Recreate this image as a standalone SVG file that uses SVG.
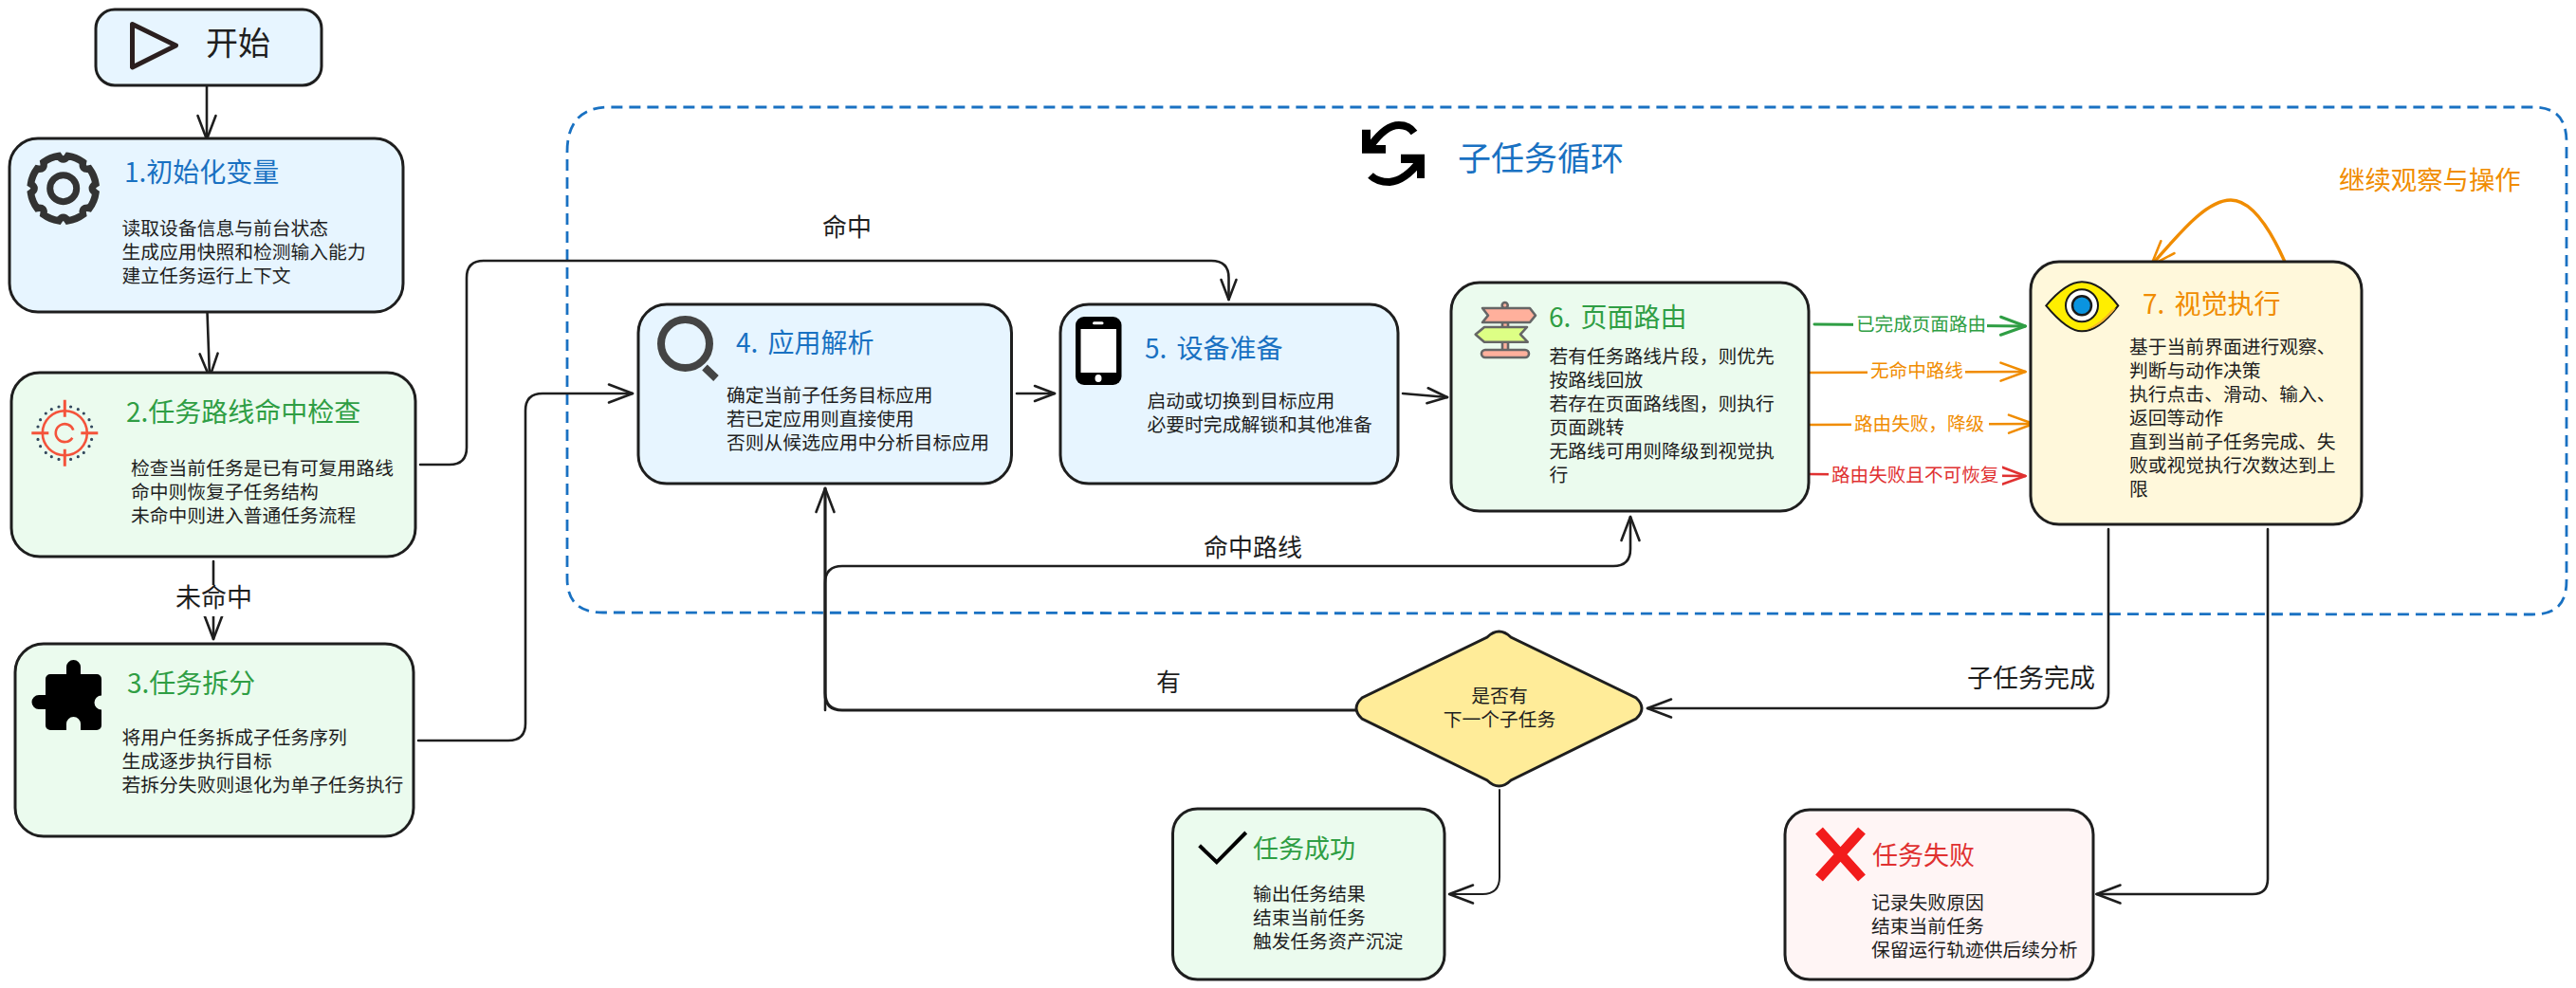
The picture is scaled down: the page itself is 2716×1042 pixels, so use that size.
<svg xmlns="http://www.w3.org/2000/svg" width="2716" height="1042" viewBox="0 0 2716 1042">
<style>
text{font-family:"Noto Sans CJK SC","Noto Sans",sans-serif;fill:#1e1e1e}
.node{stroke:#1e1e1e;stroke-width:3}
.blue{fill:#e7f5ff}.green{fill:#ebfbee}.yellow{fill:#fff8db}.red{fill:#fff5f5}
.b{font-size:19.8px}
.t{font-size:28px;word-spacing:4px}
.tb{fill:#1971c2}.tg{fill:#2f9e44}.to{fill:#f08c00}.tr{fill:#e03131}
.l{font-size:26px}
.e{font-size:19.6px}
.c{fill:none;stroke:#1e1e1e;stroke-width:2.6;stroke-linecap:round;stroke-linejoin:round;marker-end:url(#ak)}
.cs{marker-end:url(#aks)}
.cg{stroke:#2f9e44;stroke-width:3;marker-end:url(#ag)}
.co{stroke:#f08c00;marker-end:url(#ao)}
.cr{stroke:#e03131;marker-end:url(#ar)}
.bg{fill:#fff}
</style>
<defs>
<marker id="ak" markerUnits="userSpaceOnUse" markerWidth="32" markerHeight="26" viewBox="-29 -13 32 26" refX="0" refY="0" orient="auto"><path d="M-25,-9.5 L0,0 L-25,9.5" fill="none" stroke="#1e1e1e" stroke-width="2.6" stroke-linecap="round" stroke-linejoin="round"/></marker>
<marker id="aks" markerUnits="userSpaceOnUse" markerWidth="28" markerHeight="22" viewBox="-25 -11 28 22" refX="0" refY="0" orient="auto"><path d="M-21,-8 L0,0 L-21,8" fill="none" stroke="#1e1e1e" stroke-width="2.6" stroke-linecap="round" stroke-linejoin="round"/></marker>
<marker id="ag" markerUnits="userSpaceOnUse" markerWidth="32" markerHeight="26" viewBox="-29 -13 32 26" refX="0" refY="0" orient="auto"><path d="M-26,-9.5 L0,0 L-26,9.5" fill="none" stroke="#2f9e44" stroke-width="3" stroke-linecap="round" stroke-linejoin="round"/></marker>
<marker id="ao" markerUnits="userSpaceOnUse" markerWidth="32" markerHeight="26" viewBox="-29 -13 32 26" refX="0" refY="0" orient="auto"><path d="M-26,-9.5 L0,0 L-26,9.5" fill="none" stroke="#f08c00" stroke-width="2.6" stroke-linecap="round" stroke-linejoin="round"/></marker>
<marker id="ar" markerUnits="userSpaceOnUse" markerWidth="32" markerHeight="26" viewBox="-29 -13 32 26" refX="0" refY="0" orient="auto"><path d="M-26,-9.5 L0,0 L-26,9.5" fill="none" stroke="#e03131" stroke-width="2.6" stroke-linecap="round" stroke-linejoin="round"/></marker>
</defs>

<g id="subtask-loop">
<path d="M598,160 C598,130 612,113 642,113 L2670,113 C2695,113 2706,125 2706,150 L2706,612 C2706,637 2695,648 2670,648 L636,646 C610,646 598,634 598,610 Z" fill="none" stroke="#1971c2" stroke-width="2.8" stroke-dasharray="12 7"/>
<path d="M1445,154 C1455,140 1465,132 1475,132 C1482,132 1487,134 1491,140" fill="none" stroke="#000" stroke-width="8"/>
<path d="M1436,136.700 L1445,136.700 L1445,153 L1461,153 L1461,161.700 L1436,161.700 Z" fill="#000"/>
<path d="M1497,170 C1487,183 1477,191 1465,192 C1458,192 1450,190 1445,185" fill="none" stroke="#000" stroke-width="8"/>
<path d="M1477,162.700 L1502,162.700 L1502,188 L1494,188 L1494,172 L1477,172 Z" fill="#000"/>
<text x="1537" y="180" font-size="35" style="fill:#1971c2">子任务循环</text>
<text x="2466" y="200" font-size="27.400" style="fill:#f08c00">继续观察与操作</text>
</g>

<g id="connectors">
<path class="c" d="M218,87 V147"/>
<path class="c" d="M218.500,329 L221,398"/>
<path class="c" d="M225,592 V674"/>
<rect class="bg" x="184" y="617" width="84" height="33"/>
<text class="l" x="185" y="640" style="font-size:27px">未命中</text>
<path class="c cs" d="M443,490 H474 Q492,490 492,472 V293 Q492,275 510,275 H1277 Q1295.500,275 1295.500,293 V316"/>
<text class="l" x="867" y="249">命中</text>
<path class="c" d="M441,781 H536 Q554,781 554,763 V433 Q554,415 572,415 H667"/>
<path class="c cs" d="M1072,415 H1112"/>
<path class="c cs" d="M1479,415 L1526,419"/>
<path class="c" style="stroke-width:3.200" d="M1429,749 H888 Q870,749 870,731 V515"/>
<path class="c" d="M870,749 V615 Q870,597 888,597 H1701 Q1719,597 1719,579 V545"/>
<text class="l" x="1269" y="587">命中路线</text>
<text class="l" x="1219" y="729">有</text>
<path class="c cg" d="M1913,342 L2135.500,344"/>
<rect class="bg" x="1954" y="326" width="141" height="30"/>
<text class="e tg" x="1957" y="348.500">已完成页面路由</text>
<path class="c co" d="M1906,393 L2135.500,392"/>
<rect class="bg" x="1969" y="376" width="103" height="30"/>
<text class="e to" x="1972" y="397.500">无命中路线</text>
<path class="c co" d="M1906,448 L2144,447"/>
<rect class="bg" x="1952" y="431" width="145" height="30"/>
<text class="e to" x="1955" y="453.500">路由失败，降级</text>
<path class="c cr" d="M1905,500 L2135.500,502"/>
<rect class="bg" x="1928" y="485" width="183" height="30"/>
<text class="e tr" x="1931" y="507.500">路由失败且不可恢复</text>
<path class="c co" style="stroke-width:3.400" d="M2408.500,275 C2395,245 2375,211 2352,211 C2325,211 2295,250 2268,280"/>
<path class="c" d="M2223,558 V731 Q2223,747 2207,747 H1737"/>
<text class="l" x="2074" y="725" style="font-size:27px">子任务完成</text>
<path class="c" d="M2391,558 V927 Q2391,943 2375,943 H2210.500"/>
<path class="c" style="stroke-width:2" d="M1581,833 V925 Q1581,943 1563,943 H1528"/>
</g>

<g id="node-start">
<rect class="node blue" x="101" y="10" width="238" height="80" rx="20"/>
<path d="M139.500,25.500 L185.500,48 L139.500,71 Z" fill="none" stroke="#2b1f1f" stroke-width="5" stroke-linejoin="round"/>
<text x="217" y="58" font-size="34">开始</text>
</g>

<g id="node-1">
<rect class="node blue" x="10" y="146" width="415" height="183" rx="30"/>
<g transform="translate(66.700,198.700)" fill="none" stroke="#333">
<path stroke-width="7.500" d="M34.200,4.800 A34.500,34.500 0 0 1 27.600,20.800 Q19.100,19.100 20.800,27.600 A34.500,34.500 0 0 1 4.800,34.200 Q0,27 -4.800,34.200 A34.500,34.500 0 0 1 -20.800,27.600 Q-19.100,19.100 -27.600,20.800 A34.500,34.500 0 0 1 -34.200,4.800 Q-27,0 -34.200,-4.800 A34.500,34.500 0 0 1 -27.600,-20.800 Q-19.100,-19.100 -20.800,-27.600 A34.500,34.500 0 0 1 -4.800,-34.200 Q0,-27 4.800,-34.200 A34.500,34.500 0 0 1 20.800,-27.600 Q19.100,-19.100 27.600,-20.800 A34.500,34.500 0 0 1 34.200,-4.800 Q27,0 34.200,4.800 Z"/>
<circle r="14" stroke-width="7"/>
</g>
<text class="t tb" x="131" y="191.600">1.初始化变量</text>
<text class="b" x="128.500" y="247.500">读取设备信息与前台状态</text>
<text class="b" x="128.500" y="272.500">生成应用快照和检测输入能力</text>
<text class="b" x="128.500" y="297.500">建立任务运行上下文</text>
</g>

<g id="node-2">
<rect class="node green" x="12" y="393" width="426" height="194" rx="30"/>
<g transform="translate(68.300,456.700)">
<path d="M6.300,-27.700h0M14,-25h0M20,-20.700h0M25.700,-14h0M28.300,-6.700h0M28.300,6.700h0M25.700,14h0M20,20.700h0M14,25h0M6.300,27.700h0M-6.300,-27.700h0M-14,-25h0M-20,-20.700h0M-25.700,-14h0M-28.300,-6.700h0M-28.300,6.700h0M-25.700,14h0M-20,20.700h0M-14,25h0M-6.300,27.700h0" stroke="#34495e" stroke-width="3.200" stroke-linecap="round" fill="none"/>
<g fill="none" stroke="#f4533b">
<circle r="23.500" stroke-width="2.600"/>
<path stroke-width="2.600" d="M9,-3 A9.500,9.500 0 1 0 8,5"/>
<path stroke-width="3" d="M-35,0 H-17 M17,0 H35 M0,-35 V-17 M0,17 V35"/>
</g>
</g>
<text class="t tg" x="133" y="444.600">2.任务路线命中检查</text>
<text class="b" x="138" y="500.500">检查当前任务是已有可复用路线</text>
<text class="b" x="138" y="525.500">命中则恢复子任务结构</text>
<text class="b" x="138" y="551">未命中则进入普通任务流程</text>
</g>

<g id="node-3">
<rect class="node green" x="16" y="679" width="420" height="203" rx="30"/>
<path d="M53,711 H70 V703.500 a7.500,7.500 0 0 1 15,0 V711 H102 a5,5 0 0 1 5,5 V733.500 a7.500,7.500 0 0 0 0,15 V765 a5,5 0 0 1 -5,5 H85 V763.500 a7.500,7.500 0 0 0 -15,0 V770 H53 a5,5 0 0 1 -5,-5 V748 H41 a7.500,7.500 0 0 1 0,-15 H48 V716 a5,5 0 0 1 5,-5 Z" fill="#000"/>
<text class="t tg" x="134" y="730.600">3.任务拆分</text>
<text class="b" x="128.500" y="784.500">将用户任务拆成子任务序列</text>
<text class="b" x="128.500" y="809.500">生成逐步执行目标</text>
<text class="b" x="128.500" y="834.500">若拆分失败则退化为单子任务执行</text>
</g>

<g id="node-4">
<rect class="node blue" x="673" y="321" width="393.500" height="189" rx="30"/>
<circle cx="722.500" cy="362.500" r="25.500" fill="none" stroke="#444" stroke-width="8"/>
<path d="M743,387.500 L755,399" stroke="#444" stroke-width="8" fill="none"/>
<text class="t tb" x="776" y="371.600">4. 应用解析</text>
<text class="b" x="766" y="423.500">确定当前子任务目标应用</text>
<text class="b" x="766" y="448.500">若已定应用则直接使用</text>
<text class="b" x="766" y="473.500">否则从候选应用中分析目标应用</text>
</g>

<g id="node-5">
<rect class="node blue" x="1118" y="321" width="356" height="189" rx="30"/>
<rect x="1134" y="334" width="48.500" height="72" rx="9" fill="#000"/>
<rect x="1139.500" y="347" width="37.500" height="46" fill="#fff"/>
<rect x="1152" y="339.300" width="11.500" height="3" rx="1.500" fill="#fff"/>
<ellipse cx="1158" cy="399" rx="3.500" ry="4" fill="#fff"/>
<text class="t tb" x="1207" y="377.600">5. 设备准备</text>
<text class="b" x="1209.500" y="429.500">启动或切换到目标应用</text>
<text class="b" x="1209.500" y="454.500">必要时完成解锁和其他准备</text>
</g>

<g id="node-6">
<rect class="node green" x="1530" y="298" width="377" height="241" rx="30"/>
<g stroke="#666" stroke-width="2.600" stroke-linejoin="round">
<circle cx="1586.700" cy="322" r="3" fill="#ffb09c"/>
<rect x="1584" y="340" width="6" height="30" fill="#ffb09c"/>
<path d="M1563,325 H1613 L1619,332.700 L1613,340 H1563 L1569,332.700 Z" fill="#ffb09c"/>
<path d="M1610,345 H1565 L1555.700,352.700 L1565,360.700 H1610.700 L1603,352.700 Z" fill="#ddff85"/>
<rect x="1562" y="369" width="50" height="8" rx="4" fill="#ffb09c"/>
</g>
<text class="t tg" x="1633" y="344.600">6. 页面路由</text>
<text class="b" x="1633.400" y="382.500">若有任务路线片段，则优先</text>
<text class="b" x="1633.400" y="407.500">按路线回放</text>
<text class="b" x="1633.400" y="432.500">若存在页面路线图，则执行</text>
<text class="b" x="1633.400" y="457.500">页面跳转</text>
<text class="b" x="1633.400" y="482.500">无路线可用则降级到视觉执</text>
<text class="b" x="1633.400" y="507.500">行</text>
</g>

<g id="node-7">
<rect class="node yellow" x="2141" y="276" width="349" height="277" rx="30"/>
<path d="M2157.300,322.300 C2172,305 2185,297.300 2195,297.300 C2207,297.300 2220,305 2233.300,322.300 C2220,340 2207,349.300 2195,349.300 C2184,349.300 2172,340 2157.300,322.300 Z" fill="#ffee00" stroke="#1a1a1a" stroke-width="2"/>
<path d="M2231,325 C2220,339 2208,347 2198,348 C2210,343 2220,335 2226,327 Z" fill="#f5b52e"/>
<circle cx="2195" cy="322.300" r="17" fill="#fff" stroke="#1a1a1a" stroke-width="2"/>
<circle cx="2195" cy="322.300" r="10" fill="#0a94e0" stroke="#1a1a1a" stroke-width="2.500"/>
<text class="t to" x="2259" y="330.600">7. 视觉执行</text>
<text class="b" x="2245" y="372.500">基于当前界面进行观察、</text>
<text class="b" x="2245" y="397.500">判断与动作决策</text>
<text class="b" x="2245" y="422.500">执行点击、滑动、输入、</text>
<text class="b" x="2245" y="447.500">返回等动作</text>
<text class="b" x="2245" y="472.500">直到当前子任务完成、失</text>
<text class="b" x="2245" y="497.500">败或视觉执行次数达到上</text>
<text class="b" x="2245" y="522.500">限</text>
</g>

<g id="node-decision">
<path class="node" fill="#ffec99" d="M1568,672 Q1580.500,660 1593,672 L1725,736 Q1737,747 1725,758 L1593,823 Q1580.500,835 1568,823 L1436,758 Q1424,747 1436,736 Z"/>
<text class="b" x="1581" y="740.500" text-anchor="middle">是否有</text>
<text class="b" x="1581" y="765.500" text-anchor="middle">下一个子任务</text>
</g>

<g id="node-success">
<rect class="node green" x="1236.500" y="853" width="286.500" height="180" rx="26"/>
<path d="M1264.600,891.700 L1282.800,909.300 L1313.700,878" fill="none" stroke="#000" stroke-width="4"/>
<text class="t tg" style="font-size:27px" x="1321" y="905">任务成功</text>
<text class="b" x="1321" y="949.500">输出任务结果</text>
<text class="b" x="1321" y="974.500">结束当前任务</text>
<text class="b" x="1321" y="999.500">触发任务资产沉淀</text>
</g>

<g id="node-failure">
<rect class="node red" x="1882" y="854" width="325" height="179" rx="26"/>
<path d="M1918,876 L1963,926 M1963,876 L1918,926" stroke="#f21c1c" stroke-width="10.500" fill="none"/>
<text class="t tr" style="font-size:27px" x="1974" y="912">任务失败</text>
<text class="b" x="1973" y="958.500">记录失败原因</text>
<text class="b" x="1973" y="983.500">结束当前任务</text>
<text class="b" x="1973" y="1008.500">保留运行轨迹供后续分析</text>
</g>
</svg>
